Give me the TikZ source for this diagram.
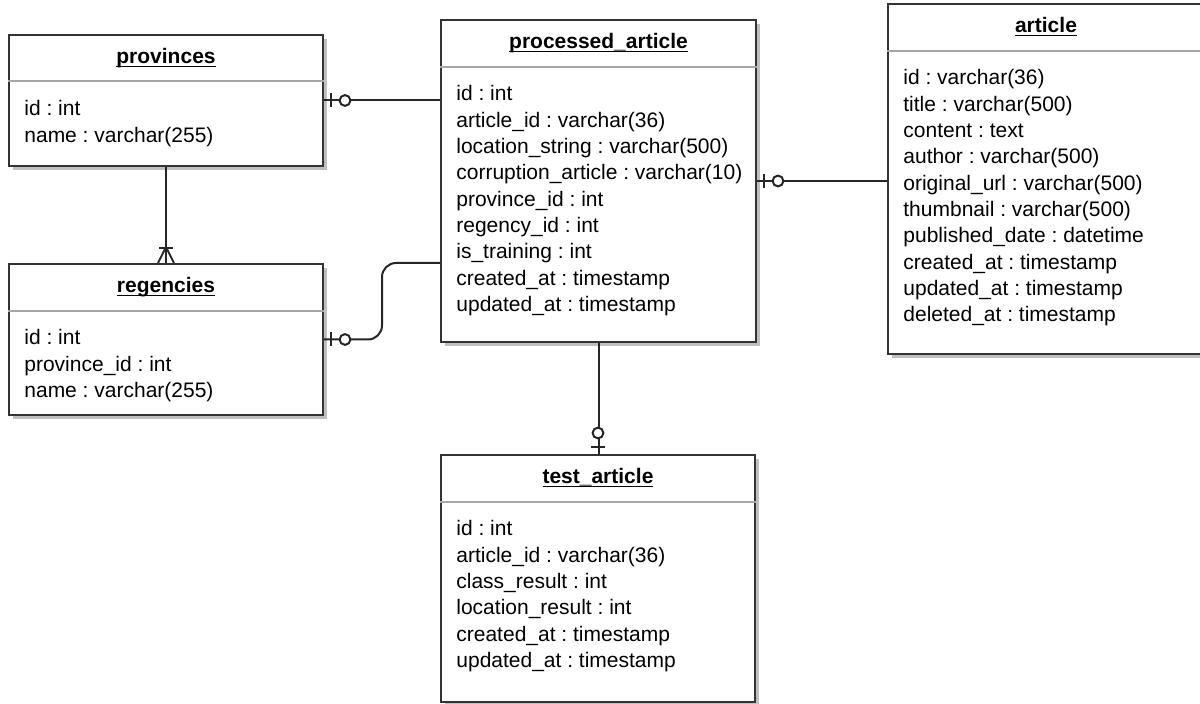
\documentclass[tikz,border=0pt]{standalone}
\usepackage{fontspec}
\setmainfont{Liberation Sans}
\usetikzlibrary{shadows,calc}

\newcommand{\attrlist}[1]{\begin{tabular}[t]{@{}l@{}}#1\end{tabular}}

\tikzset{
  entity/.style={draw=black!80, line width=1pt, fill=white, inner sep=0pt,
    drop shadow={shadow xshift=2pt, shadow yshift=-2pt, fill=black!25, opacity=1}},
  divline/.style={draw=black!35, line width=0.9pt},
  etitle/.style={inner sep=0pt, font=\fontsize{10.5pt}{12pt}\selectfont\bfseries, anchor=base},
  attrs/.style={inner sep=0pt, anchor=base west,
    font=\fontsize{10.5pt}{13.15pt}\selectfont\frenchspacing},
  rel/.style={draw=black!85, line width=1pt},
  zeroone/.pic={
    \draw[rel] (7,-7) -- (7,7);
    \draw[rel, fill=white] (21,0) circle (2.7pt);
  },
  onemany/.pic={
    \draw[rel] (15,-7) -- (15,7);
    \draw[rel] (0,-8) -- (16,0) -- (0,8);
  }
}

\begin{document}
\begin{tikzpicture}[x=0.5pt, y=-0.5pt]
  \useasboundingbox (0,0) rectangle (1200,704);

  % tables
  \node[entity, minimum width=157pt, minimum height=65.5pt] (provinces) at (166,100.5) {};
  \node[entity, minimum width=157pt, minimum height=75.5pt] (regencies) at (166,339.5) {};
  \node[entity, minimum width=157.5pt, minimum height=161pt] (processed) at (598.5,181) {};
  \node[entity, minimum width=158pt, minimum height=175pt] (article) at (1046,179) {};
  \node[entity, minimum width=157pt, minimum height=123.5pt] (test) at (598,578.5) {};

  % header lines
  \draw[divline] ([yshift=-23.5pt]provinces.north west) -- ([yshift=-23.5pt]provinces.north east);
  \draw[divline] ([yshift=-24pt]regencies.north west) -- ([yshift=-24pt]regencies.north east);
  \draw[divline] ([yshift=-24pt]processed.north west) -- ([yshift=-24pt]processed.north east);
  \draw[divline] ([yshift=-24pt]article.north west) -- ([yshift=-24pt]article.north east);
  \draw[divline] ([yshift=-24pt]test.north west) -- ([yshift=-24pt]test.north east);

  % titles
  \node[etitle] (provinces-t) at ([yshift=-15pt]provinces.north) {\underline{\smash{provinces}}};
  \node[etitle] (regencies-t) at ([yshift=-15pt]regencies.north) {\underline{\smash{regencies}}};
  \node[etitle] (processed-t) at ([yshift=-15pt]processed.north) {\underline{\smash{processed\_article}}};
  \node[etitle] (article-t) at ([yshift=-15pt]article.north) {\underline{\smash{article}}};
  \node[etitle] (test-t) at ([yshift=-15pt]test.north) {\underline{\smash{test\_article}}};

  % attributes
  \node[attrs] (provinces-a) at ([xshift=8pt,yshift=-41pt]provinces.north west)
    {\attrlist{id : int\\name : varchar(255)}};
  \node[attrs] (regencies-a) at ([xshift=8pt,yshift=-41pt]regencies.north west)
    {\attrlist{id : int\\province\_id : int\\name : varchar(255)}};
  \node[attrs] (processed-a) at ([xshift=8pt,yshift=-41pt]processed.north west)
    {\attrlist{id : int\\article\_id : varchar(36)\\location\_string : varchar(500)\\
     corruption\_article : varchar(10)\\province\_id : int\\regency\_id : int\\
     is\_training : int\\created\_at : timestamp\\updated\_at : timestamp}};
  \node[attrs] (article-a) at ([xshift=8pt,yshift=-41pt]article.north west)
    {\attrlist{id : varchar(36)\\title : varchar(500)\\content : text\\author : varchar(500)\\
     original\_url : varchar(500)\\thumbnail : varchar(500)\\published\_date : datetime\\
     created\_at : timestamp\\updated\_at : timestamp\\deleted\_at : timestamp}};
  \node[attrs] (test-a) at ([xshift=8pt,yshift=-41pt]test.north west)
    {\attrlist{id : int\\article\_id : varchar(36)\\class\_result : int\\location\_result : int\\
     created\_at : timestamp\\updated\_at : timestamp}};

  % relations
  \coordinate (procreg) at ([yshift=-41pt]processed.west);
  \draw[rel] (provinces.east) -- (provinces.east -| processed.west);
  \draw[rel] (processed.east) -- (processed.east -| article.west);
  \draw[rel, rounded corners=7pt] (regencies.east) -- ($(regencies.east)!.5!(regencies.east -| procreg)$) |- (procreg);
  \draw[rel] (provinces.south) -- (regencies.north);
  \draw[rel] (processed.south) -- (processed.south |- test.north);

  \pic at (provinces.east) {zeroone};
  \pic at (processed.east) {zeroone};
  \pic at (regencies.east) {zeroone};
  \pic[rotate=90] at (test.north) {zeroone};
  \pic[rotate=90] at (regencies.north) {onemany};
\end{tikzpicture}
\end{document}
